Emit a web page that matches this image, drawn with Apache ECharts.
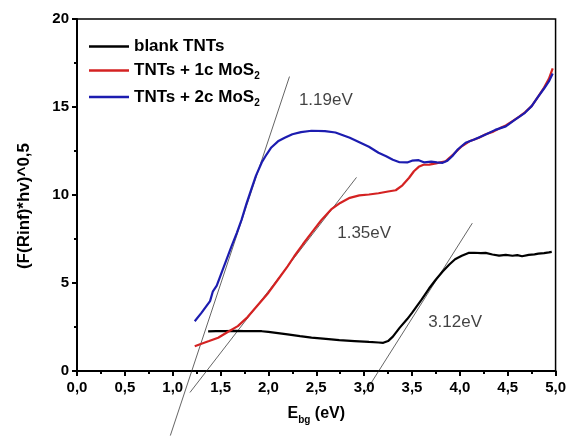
<!DOCTYPE html>
<html>
<head>
<meta charset="utf-8">
<script src="https://cdn.jsdelivr.net/npm/echarts@6/dist/echarts.min.js"></script>
<style>html,body{margin:0;padding:0;background:#fff}#c{width:569px;height:436px}</style>
</head>
<body>
<div id="c"></div>
<script>
var seriesNames = ['blank TNTs', 'TNTs + 1c MoS2', 'TNTs + 2c MoS2'];
var xTicks = ['0,0','0,5','1,0','1,5','2,0','2,5','3,0','3,5','4,0','4,5','5,0'];

var blankX = [1.37,1.45,1.55,1.65,1.75,1.85,1.93,2.0,2.1,2.2,2.33,2.45,2.6,2.74,2.9,3.05,3.15,3.2,3.25,3.3,3.37,3.45,3.5,3.6,3.68,3.75,3.82,3.89,3.95,4.02,4.09,4.15,4.22,4.27,4.34,4.41,4.48,4.55,4.6,4.65,4.72,4.78,4.82,4.88,4.93,4.96];
var blankY = [2.25,2.27,2.27,2.28,2.27,2.27,2.26,2.22,2.15,2.08,1.98,1.9,1.83,1.75,1.7,1.65,1.62,1.6,1.7,1.95,2.45,2.95,3.3,4.05,4.7,5.2,5.65,6.05,6.35,6.55,6.71,6.72,6.7,6.71,6.62,6.56,6.6,6.55,6.58,6.52,6.6,6.63,6.67,6.7,6.74,6.77];

var redX = [1.23,1.3,1.38,1.475,1.57,1.68,1.78,1.89,2.0,2.1,2.2,2.27,2.36,2.45,2.55,2.655,2.75,2.85,2.95,3.05,3.15,3.25,3.33,3.4,3.47,3.52,3.57,3.62,3.68,3.75,3.85,3.93,4.02,4.1,4.2,4.27,4.35,4.42,4.48,4.55,4.62,4.68,4.75,4.82,4.88,4.93,4.97];
var redY = [1.41,1.55,1.7,1.89,2.2,2.55,3.05,3.75,4.45,5.2,5.95,6.52,7.2,7.85,8.55,9.18,9.55,9.84,9.98,10.03,10.1,10.2,10.27,10.55,10.98,11.35,11.6,11.72,11.73,11.8,11.92,12.3,12.77,13.05,13.25,13.45,13.6,13.8,13.95,14.2,14.45,14.7,15.05,15.6,16.1,16.6,17.2];

var blueX = [1.23,1.3,1.39,1.42,1.46,1.51,1.56,1.615,1.67,1.72,1.77,1.82,1.87,1.93,1.98,2.03,2.1,2.17,2.25,2.34,2.45,2.59,2.7,2.85,2.95,3.05,3.15,3.23,3.3,3.37,3.45,3.5,3.57,3.63,3.7,3.76,3.82,3.87,3.92,3.98,4.06,4.15,4.27,4.37,4.48,4.57,4.68,4.75,4.82,4.88,4.93,4.97];
var blueY = [2.83,3.3,3.97,4.53,4.85,5.58,6.3,7.09,7.85,8.6,9.5,10.3,11.1,11.85,12.3,12.7,13.05,13.25,13.45,13.57,13.65,13.63,13.55,13.25,13.0,12.74,12.4,12.2,12.0,11.86,11.85,11.95,11.98,11.85,11.9,11.85,11.83,11.95,12.2,12.6,12.97,13.15,13.44,13.7,13.9,14.25,14.67,15.05,15.6,16.05,16.45,16.9];

var tangent119X = [0.975, 2.22];
var tangent119Y = [-3.67, 16.73];
var tangent135X = [1.18, 2.92];
var tangent135Y = [-1.22, 11.0];
var tangent312X = [3.01, 4.13];
var tangent312Y = [-1.22, 8.4];

var gapLabels = ['1.19eV', '1.35eV', '3.12eV'];

function zip(xs, ys) { return xs.map(function (x, i) { return [x, ys[i]]; }); }

var chart = echarts.init(document.getElementById('c'), null, {renderer: 'canvas'});
var FONT = 'Liberation Sans, Arial, sans-serif';

function tangentSeries(xs, ys) {
  return {
    type: 'line', data: zip(xs, ys), symbol: 'none', clip: false, silent: true,
    lineStyle: {color: '#222', width: 0.7}, z: 1
  };
}

chart.setOption({
  animation: false,
  backgroundColor: '#fff',
  textStyle: {fontFamily: FONT},
  grid: {left: 77, right: 12, top: 19, bottom: 65, show: true, borderColor: '#000', borderWidth: 1.5, backgroundColor: 'transparent'},
  legend: {
    orient: 'vertical', left: 84, top: 33, itemWidth: 40, itemHeight: 2.5, itemGap: 7,
    icon: 'rect',
    data: seriesNames,
    textStyle: {
      fontFamily: FONT, fontWeight: 'bold', fontSize: 17, color: '#000',
      rich: {
        m: {fontFamily: FONT, fontWeight: 'bold', fontSize: 17, color: '#000'},
        s: {fontFamily: FONT, fontWeight: 'bold', fontSize: 10, color: '#000', verticalAlign: 'bottom', padding: [12, 0, 0, 0]}
      }
    },
    formatter: function (n) {
      if (n.indexOf('MoS2') >= 0) return '{m|' + n.slice(0, -1) + '}{s|2}';
      return n;
    }
  },
  xAxis: {
    type: 'value', min: 0, max: 5, interval: 0.5,
    name: 'E{s|bg} (eV)', nameLocation: 'middle', nameGap: 32,
    nameTextStyle: {
      fontFamily: FONT, fontWeight: 'bold', fontSize: 16, color: '#000',
      rich: {s: {fontFamily: FONT, fontWeight: 'bold', fontSize: 10, color: '#000', verticalAlign: 'bottom', padding: [12, 0, 0, 0]}}
    },
    axisLine: {lineStyle: {color: '#000', width: 2}},
    axisTick: {show: true, inside: false, length: 5, lineStyle: {color: '#000', width: 2}},
    minorTick: {show: true, splitNumber: 2, length: 3, lineStyle: {color: '#000', width: 2}},
    splitLine: {show: false},
    axisLabel: {
      margin: 9, fontFamily: FONT, fontWeight: 'bold', fontSize: 15, color: '#000',
      formatter: function (v) { return xTicks[Math.round(v * 2)]; }
    }
  },
  yAxis: {
    type: 'value', min: 0, max: 20, interval: 5,
    name: '(F(Rinf)*hv)^0,5', nameLocation: 'middle', nameGap: 44, nameRotate: 90,
    nameTextStyle: {fontFamily: FONT, fontWeight: 'bold', fontSize: 17, color: '#000', padding: [0, 22, 0, 0]},
    axisLine: {lineStyle: {color: '#000', width: 2}},
    axisTick: {show: true, inside: false, length: 5, lineStyle: {color: '#000', width: 2}},
    minorTick: {show: true, splitNumber: 2, length: 3, lineStyle: {color: '#000', width: 2}},
    splitLine: {show: false},
    axisLabel: {margin: 8, fontFamily: FONT, fontWeight: 'bold', fontSize: 15, color: '#000'}
  },
  series: [
    {name: seriesNames[0], type: 'line', data: zip(blankX, blankY), symbol: 'none', showSymbol: false,
     lineStyle: {color: '#000', width: 2.2}, itemStyle: {color: '#000'}, z: 3},
    {name: seriesNames[1], type: 'line', data: zip(redX, redY), symbol: 'none', showSymbol: false,
     lineStyle: {color: '#d42222', width: 2.2}, itemStyle: {color: '#d42222'}, z: 3},
    {name: seriesNames[2], type: 'line', data: zip(blueX, blueY), symbol: 'none', showSymbol: false,
     lineStyle: {color: '#1c1cb0', width: 2.2}, itemStyle: {color: '#1c1cb0'}, z: 4},
    tangentSeries(tangent119X, tangent119Y),
    tangentSeries(tangent135X, tangent135Y),
    tangentSeries(tangent312X, tangent312Y),
    {
      type: 'scatter', symbolSize: 0, silent: true, z: 5,
      data: [[2.6, 15.4, gapLabels[0]], [3.0, 7.8, gapLabels[1]], [3.95, 2.75, gapLabels[2]]],
      label: {show: true, position: 'inside', fontFamily: FONT, fontSize: 17, color: '#111',
              formatter: function (p) { return p.data[2]; }}
    }
  ]
});
</script>
</body>
</html>
